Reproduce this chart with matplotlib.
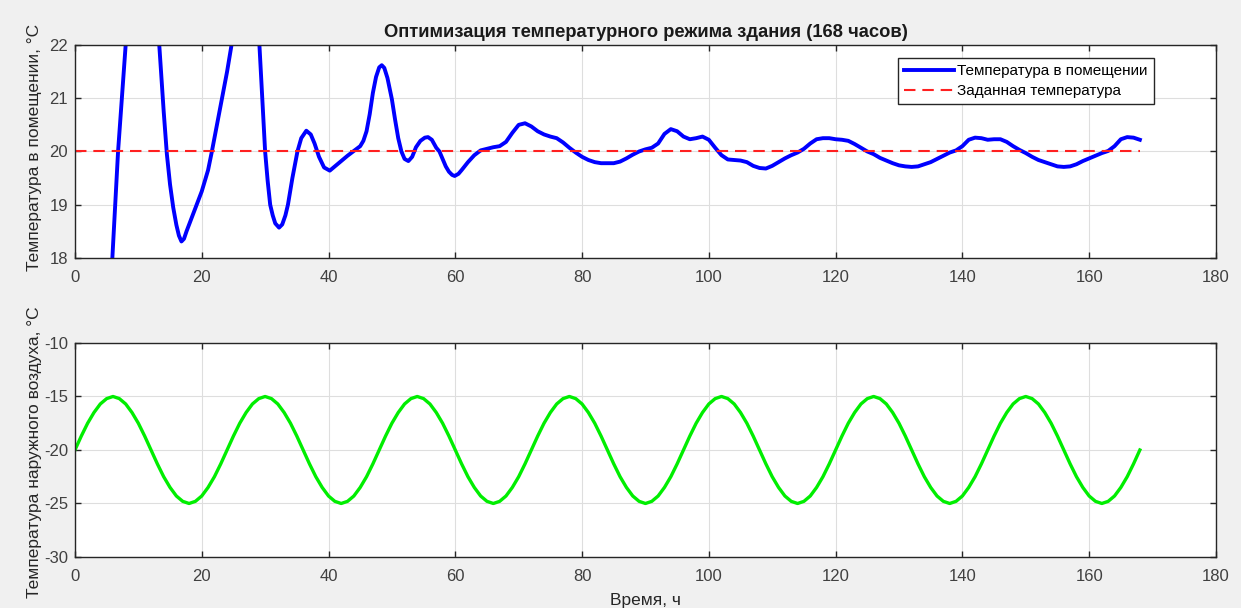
import numpy as np
import matplotlib.pyplot as plt

plt.rcParams['font.family'] = ['Liberation Sans', 'DejaVu Sans']
plt.rcParams['axes.unicode_minus'] = False

# indoor temperature (hours, degC)
t_in = [0, 1, 2, 3, 4, 5, 5.9, 6.8, 8, 9, 10, 10.7, 11.5, 12.5, 13.3, 14, 14.5, 15, 15.5, 16,
        16.4, 16.8, 17.2, 17.6, 18.5, 19.2, 20, 21, 21.6, 22.4, 23.2, 24, 24.7, 25.5, 26.5, 27.3, 28, 28.6, 29.1, 29.55,
        30, 30.4, 30.8, 31.2, 31.6, 32.2, 32.7, 33.2, 33.6, 34.3, 35.1, 35.7, 36.5, 37.2, 37.8, 38.5, 39.3, 40.2, 41, 42,
        43, 43.9, 45, 45.5, 46, 46.5, 47, 47.5, 48, 48.4, 48.8, 49.3, 49.7, 50, 50.5, 51, 51.5, 52, 52.6, 53.2,
        53.8, 54.5, 55.2, 55.7, 56.3, 57, 57.5, 58, 58.5, 59, 59.5, 59.9, 60.5, 61, 62, 63, 64, 65, 66, 67,
        68, 69, 70, 71, 72, 73, 74, 75, 76, 77, 78, 79, 80, 81, 82, 83, 84, 85, 86, 87,
        88, 89, 90, 91, 92, 93, 94, 95, 96, 97, 98, 99, 100, 101, 102, 103, 104, 105, 106, 107,
        108, 109, 110, 111, 112, 113, 114, 115, 116, 117, 118, 119, 120, 121, 122, 123, 124, 125, 126, 127,
        128, 129, 130, 131, 132, 133, 134, 135, 136, 137, 138, 139, 140, 141, 142, 143, 144, 145, 146, 147,
        148, 149, 150, 151, 152, 153, 154, 155, 156, 157, 158, 159, 160, 161, 162, 163, 164, 165, 166, 167,
        168]
temp_in = [10.5, 11.7, 12.9, 14.0, 15.1, 16.4, 18.0, 20.0, 22.0, 23.3, 24.0, 24.2, 24.0, 23.2, 22.0, 20.75, 19.95, 19.38, 18.95, 18.62,
           18.42, 18.31, 18.36, 18.5, 18.78, 19.0, 19.25, 19.65, 20.0, 20.5, 21.0, 21.5, 22.0, 22.6, 23.1, 23.2, 23.0, 22.6, 22.0, 21.0,
           20.0, 19.45, 19.0, 18.8, 18.65, 18.57, 18.63, 18.8, 19.0, 19.5, 20.0, 20.25, 20.39, 20.32, 20.15, 19.9, 19.7, 19.64, 19.72, 19.82,
           19.92, 20.0, 20.1, 20.2, 20.38, 20.7, 21.1, 21.4, 21.58, 21.62, 21.57, 21.38, 21.15, 20.98, 20.6, 20.25, 20.0, 19.86, 19.82, 19.9,
           20.08, 20.2, 20.26, 20.27, 20.22, 20.07, 20.0, 19.86, 19.72, 19.62, 19.56, 19.54, 19.58, 19.65, 19.8, 19.93, 20.02, 20.05, 20.08, 20.1,
           20.18, 20.35, 20.5, 20.53, 20.47, 20.38, 20.32, 20.28, 20.25, 20.17, 20.07, 19.98, 19.9, 19.84, 19.8, 19.78, 19.78, 19.78, 19.81, 19.87,
           19.94, 20.0, 20.04, 20.07, 20.15, 20.33, 20.42, 20.38, 20.28, 20.23, 20.25, 20.28, 20.22, 20.07, 19.93, 19.85, 19.84, 19.83, 19.8, 19.73,
           19.69, 19.68, 19.73, 19.8, 19.87, 19.93, 19.98, 20.05, 20.15, 20.23, 20.25, 20.25, 20.23, 20.22, 20.2, 20.14, 20.07, 20.0, 19.95, 19.88,
           19.83, 19.78, 19.74, 19.72, 19.71, 19.72, 19.76, 19.8, 19.86, 19.92, 19.98, 20.02, 20.1, 20.22, 20.26, 20.25, 20.22, 20.23, 20.23, 20.18,
           20.1, 20.03, 19.97, 19.9, 19.84, 19.8, 19.76, 19.72, 19.71, 19.72, 19.76, 19.82, 19.87, 19.92, 19.97, 20.01, 20.1, 20.23, 20.27, 20.26,
           20.22]

setpoint_t = [0, 168]
setpoint = [20, 20]

# outdoor temperature, hourly
t_out = list(range(0, 169))
temp_out = [
    -20.0, -18.7, -17.5, -16.5, -15.7, -15.2, -15.0, -15.2, -15.7, -16.5, -17.5, -18.7, -20.0, -21.3, -22.5, -23.5, -24.3, -24.8, -25.0, -24.8, -24.3, -23.5, -22.5, -21.3,
    -20.0, -18.7, -17.5, -16.5, -15.7, -15.2, -15.0, -15.2, -15.7, -16.5, -17.5, -18.7, -20.0, -21.3, -22.5, -23.5, -24.3, -24.8, -25.0, -24.8, -24.3, -23.5, -22.5, -21.3,
    -20.0, -18.7, -17.5, -16.5, -15.7, -15.2, -15.0, -15.2, -15.7, -16.5, -17.5, -18.7, -20.0, -21.3, -22.5, -23.5, -24.3, -24.8, -25.0, -24.8, -24.3, -23.5, -22.5, -21.3,
    -20.0, -18.7, -17.5, -16.5, -15.7, -15.2, -15.0, -15.2, -15.7, -16.5, -17.5, -18.7, -20.0, -21.3, -22.5, -23.5, -24.3, -24.8, -25.0, -24.8, -24.3, -23.5, -22.5, -21.3,
    -20.0, -18.7, -17.5, -16.5, -15.7, -15.2, -15.0, -15.2, -15.7, -16.5, -17.5, -18.7, -20.0, -21.3, -22.5, -23.5, -24.3, -24.8, -25.0, -24.8, -24.3, -23.5, -22.5, -21.3,
    -20.0, -18.7, -17.5, -16.5, -15.7, -15.2, -15.0, -15.2, -15.7, -16.5, -17.5, -18.7, -20.0, -21.3, -22.5, -23.5, -24.3, -24.8, -25.0, -24.8, -24.3, -23.5, -22.5, -21.3,
    -20.0, -18.7, -17.5, -16.5, -15.7, -15.2, -15.0, -15.2, -15.7, -16.5, -17.5, -18.7, -20.0, -21.3, -22.5, -23.5, -24.3, -24.8, -25.0, -24.8, -24.3, -23.5, -22.5, -21.3,
    -20.0]

x_ticks = list(range(0, 181, 20))
y_ticks_in = [18, 19, 20, 21, 22]
y_ticks_out = [-30, -25, -20, -15, -10]

fig = plt.figure(figsize=(12.41, 6.08), dpi=100, facecolor='#f0f0f0')
ax1 = fig.add_axes([0.0604, 0.5757, 0.9194, 0.3503])
ax2 = fig.add_axes([0.0604, 0.0839, 0.9194, 0.352])

edge = '#262626'
for ax in (ax1, ax2):
    ax.set_facecolor('white')
    ax.grid(True, color='#dedede', linewidth=0.8)
    ax.set_axisbelow(True)
    ax.tick_params(direction='in', length=4, width=1, colors=edge, labelcolor='#404040',
                   labelsize=12, top=True, right=True)
    ax.tick_params(axis='x', pad=9)
    ax.tick_params(axis='y', pad=5)
    for s in ax.spines.values():
        s.set_color(edge)
        s.set_linewidth(1)
    ax.set_xlim(0, 180)
    ax.set_xticks(x_ticks)

ax1.plot(t_in, temp_in, color='#0000ff', linewidth=2.8, label='Температура в помещении')
ax1.plot(setpoint_t, setpoint, color='#ff2020', linewidth=1.5, linestyle=(0, (5.5, 3.3)),
         label='Заданная температура')
ax1.set_ylim(18, 22)
ax1.set_yticks(y_ticks_in)
ax1.set_title('Оптимизация температурного режима здания (168 часов)', fontsize=13.2,
              fontweight='bold', pad=6, color='#1a1a1a')
ax1.set_ylabel('Температура в помещении, °C', fontsize=12.5, color='#262626')
ax1.yaxis.set_label_coords(-0.029, 0.52)
leg = ax1.legend(loc='upper right', bbox_to_anchor=(0.9457, 0.939), fontsize=11,
                 fancybox=False, framealpha=1, edgecolor=edge, handlelength=3.3,
                 borderpad=0.4, labelspacing=0.4, handletextpad=0.2, borderaxespad=0)
leg.get_frame().set_linewidth(1)

ax2.plot(t_out, temp_out, color='#00ee00', linewidth=2.4)
ax2.set_ylim(-30, -10)
ax2.set_yticks(y_ticks_out)
ax2.set_ylabel('Температура наружного воздуха, °C', fontsize=12.5, color='#262626')
ax2.yaxis.set_label_coords(-0.029, 0.49)
ax2.set_xlabel('Время, ч', fontsize=12.5, color='#262626', labelpad=6)

fig.savefig('out.png', dpi=100, facecolor=fig.get_facecolor())
